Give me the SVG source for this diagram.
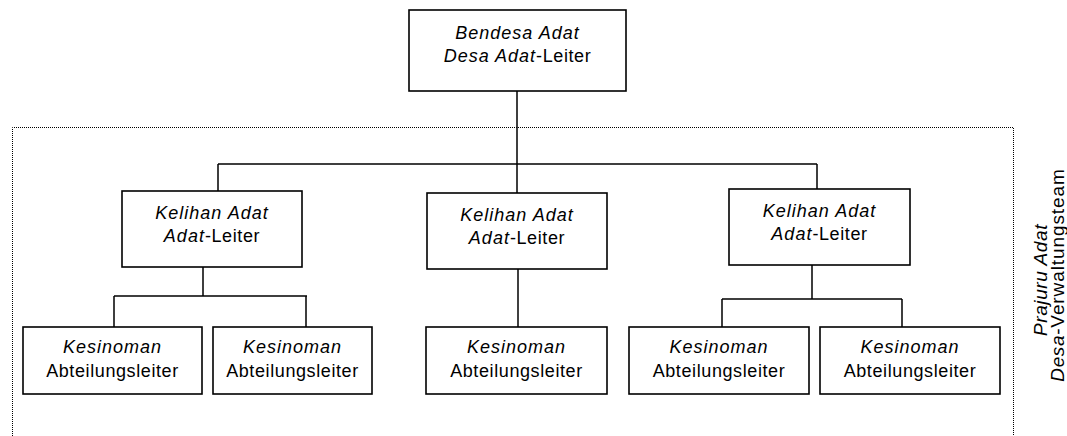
<svg xmlns="http://www.w3.org/2000/svg" width="1067" height="436" viewBox="0 0 1067 436">
<style>
.box{fill:#fff;stroke:#000;stroke-width:1.6}
.t{font-family:"Liberation Sans",Arial,sans-serif;font-size:18px;text-anchor:middle;fill:#000;letter-spacing:0.6px}
.i{font-style:italic;letter-spacing:1px}
.r{font-size:19px;letter-spacing:0.9px}
.ri{font-style:italic;letter-spacing:0.6px}
.c{fill:none;stroke:#000;stroke-width:1.5}
.dot{fill:none;stroke:#000;stroke-width:1;stroke-dasharray:1 1}
</style>
<rect width="1067" height="436" fill="#fff"/>
<path id="frame" class="dot" d="M12.5,440 V127.5 H1013.5 V440"/>
<g id="connectors">
<path class="c" d="M517,91 V164 M218,164 H817 M218,164 V191 M517,164 V193 M817,164 V189"/>
<path class="c" d="M203,267 V296 M114,296 H307 M114,296 V327 M306,296 V327"/>
<path class="c" d="M518,269 V327"/>
<path class="c" d="M812,265 V299 M722,299 H902 M722,299 V327 M902,299 V327"/>
</g>
<g id="bendesa">
<rect class="box" x="409" y="10" width="217" height="81"/>
<text class="t" x="517.5" y="39"><tspan class="i">Bendesa Adat</tspan></text>
<text class="t" x="517.5" y="62"><tspan class="i">Desa Adat</tspan>-Leiter</text>
</g>
<g id="kelihan1">
<rect class="box" x="122" y="191" width="180" height="76"/>
<text class="t" x="212" y="219"><tspan class="i">Kelihan Adat</tspan></text>
<text class="t" x="212" y="242"><tspan class="i">Adat</tspan>-Leiter</text>
</g>
<g id="kelihan2">
<rect class="box" x="427" y="193" width="180" height="76"/>
<text class="t" x="517" y="221"><tspan class="i">Kelihan Adat</tspan></text>
<text class="t" x="517" y="244"><tspan class="i">Adat</tspan>-Leiter</text>
</g>
<g id="kelihan3">
<rect class="box" x="729" y="189" width="181" height="76"/>
<text class="t" x="819.5" y="217"><tspan class="i">Kelihan Adat</tspan></text>
<text class="t" x="819.5" y="240"><tspan class="i">Adat</tspan>-Leiter</text>
</g>
<g id="kesinoman1">
<rect class="box" x="23" y="327" width="179" height="67"/>
<text class="t" x="112.5" y="353"><tspan class="i">Kesinoman</tspan></text>
<text class="t" x="112.5" y="377">Abteilungsleiter</text>
</g>
<g id="kesinoman2">
<rect class="box" x="213" y="327" width="159" height="67"/>
<text class="t" x="292.5" y="353"><tspan class="i">Kesinoman</tspan></text>
<text class="t" x="292.5" y="377">Abteilungsleiter</text>
</g>
<g id="kesinoman3">
<rect class="box" x="426" y="327" width="181" height="67"/>
<text class="t" x="516.5" y="353"><tspan class="i">Kesinoman</tspan></text>
<text class="t" x="516.5" y="377">Abteilungsleiter</text>
</g>
<g id="kesinoman4">
<rect class="box" x="629" y="327" width="180" height="67"/>
<text class="t" x="719" y="353"><tspan class="i">Kesinoman</tspan></text>
<text class="t" x="719" y="377">Abteilungsleiter</text>
</g>
<g id="kesinoman5">
<rect class="box" x="820" y="327" width="180" height="67"/>
<text class="t" x="910" y="353"><tspan class="i">Kesinoman</tspan></text>
<text class="t" x="910" y="377">Abteilungsleiter</text>
</g>
<g id="prajuru">
<text class="t r" transform="translate(1047,280) rotate(-90)"><tspan class="ri">Prajuru Adat</tspan></text>
<text class="t r" transform="translate(1064,275) rotate(-90)"><tspan class="ri">Desa</tspan>-Verwaltungsteam</text>
</g>
</svg>
